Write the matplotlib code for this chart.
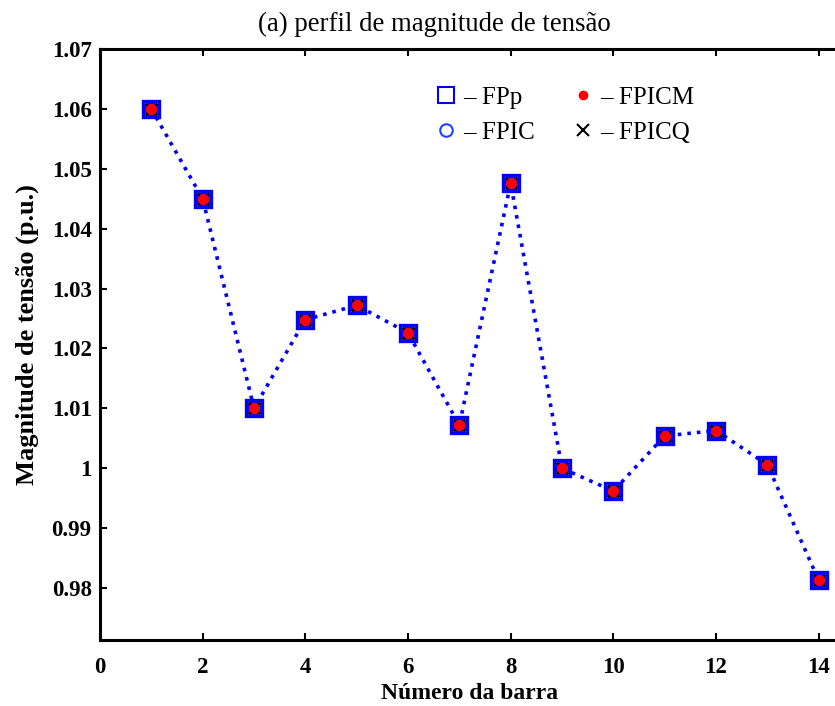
import matplotlib
matplotlib.use("Agg")
import matplotlib.pyplot as plt
from matplotlib.lines import Line2D

# dados
barras = [1, 2, 3, 4, 5, 6, 7, 8, 9, 10, 11, 12, 13, 14]
v_fpp = [1.060, 1.045, 1.010, 1.0248, 1.0272, 1.0226, 1.0072, 1.0476, 1.0000, 0.9962, 1.0054, 1.0063, 1.0006, 0.9813]
v_fpic = list(v_fpp)
v_fpicm = list(v_fpp)
v_fpicq = list(v_fpp)

xticks = [0, 2, 4, 6, 8, 10, 12, 14]
yticks = [0.98, 0.99, 1.00, 1.01, 1.02, 1.03, 1.04, 1.05, 1.06, 1.07]
ylabels = ['0.98', '0.99', '1', '1.01', '1.02', '1.03', '1.04', '1.05', '1.06', '1.07']

plt.rcParams['font.family'] = ['Liberation Serif', 'DejaVu Serif']

fig = plt.figure(figsize=(8.35, 7.06), dpi=100)
ax = fig.add_axes([100/835, 1 - 640/706, 770/835, (640 - 49)/706])

ax.plot(barras, v_fpp, ':', color='#0000ff', lw=2.6, marker='s', ms=12,
        mfc='white', mec='#0000ff', mew=2.4, label='– FPp', zorder=2)
ax.plot(barras, v_fpic, 'o', color='#0000ff', ms=9, mfc='none', mew=1.5,
        label='– FPIC', zorder=3)
ax.plot(barras, v_fpicm, '.', color='red', ms=14, label='– FPICM', zorder=5)
ax.plot(barras, v_fpicq, 'x', color='black', ms=8, mew=2, label='– FPICQ', zorder=4)

ax.set_xlim(0, 15)
ax.set_ylim(0.97133, 1.07)
ax.set_xticks(xticks)
ax.set_xticklabels([str(t) for t in xticks])
ax.set_yticks(yticks)
ax.set_yticklabels(ylabels)

for s in ax.spines.values():
    s.set_linewidth(2.2)
ax.tick_params(direction='in', length=5, width=1.5, top=True, right=True,
               labelsize=16.5)
ax.tick_params(axis='x', pad=12)
ax.tick_params(axis='y', pad=6)
for lab in ax.get_xticklabels() + ax.get_yticklabels():
    lab.set_fontweight('bold')

# titulo deslocado para a esquerda como no original
fig.text(434/835, 1 - 24/706, '(a) perfil de magnitude de tensão',
         fontsize=19.3, ha='center', va='center')

ax.set_xlabel('Número da barra', fontsize=17, fontweight='bold')
ax.xaxis.set_label_coords((470 - 100)/770, (640 - 683)/591)
ax.set_ylabel('Magnitude de tensão (p.u.)', fontsize=19, fontweight='bold')
ax.yaxis.label.set_va('center')
ax.yaxis.set_label_coords((27 - 100)/770, (640 - 335)/591)

# legenda sem as linhas, so marcadores
hs = [Line2D([], [], ls='none', marker='s', ms=11, mfc='white', mec='#0000ff', mew=1.5),
      Line2D([], [], ls='none', marker='o', ms=9, mfc='white', mec='#2040ff', mew=1.5),
      Line2D([], [], ls='none', marker='.', ms=12, color='red'),
      Line2D([], [], ls='none', marker='x', ms=8, mew=1.5, color='black')]
leg = ax.legend(hs, ['– FPp', '– FPIC', '– FPICM', '– FPICQ'], ncol=2,
                loc='upper left', bbox_to_anchor=(0.407, 0.975), frameon=False,
                fontsize=18, handlelength=0.8, handletextpad=0.3,
                columnspacing=1.5, labelspacing=0.5)

fig.savefig('out.png', dpi=100)
